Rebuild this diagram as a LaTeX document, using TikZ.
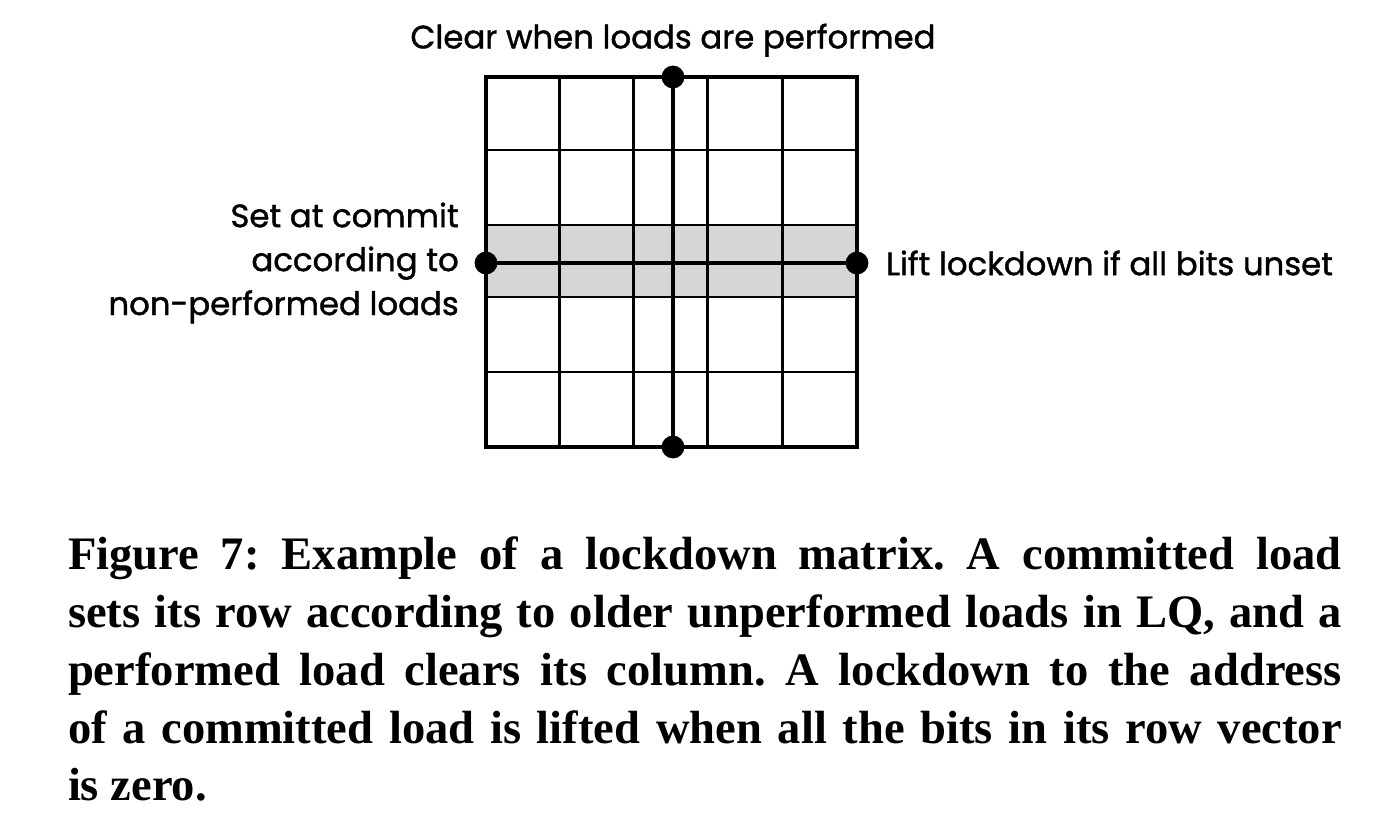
\documentclass[tikz,border=0pt]{standalone}
\usepackage{fontspec}
\setmainfont{Liberation Serif}
\newfontfamily\labelfont[FakeBold=1.2]{Poppins}
\newfontfamily\capfont{Liberation Serif}
\usetikzlibrary{positioning}
\definecolor{rowgray}{HTML}{D6D6D6}

\begin{document}
\frenchspacing
\begin{tikzpicture}[x=0.02cm, y=-0.02cm]
   \tikzstyle{every node}=[inner sep=0pt, outer sep=0pt]
   \tikzstyle{dot}=[circle, fill=black, minimum size=13pt]
   \tikzstyle{cell}=[line width=1.7pt]
   \tikzstyle{cross}=[line width=2.8pt]
   \tikzstyle{lbl}=[font=\labelfont\fontsize{18.4}{25}\selectfont]
   \tikzstyle{caption}=[font=\capfont\bfseries\fontsize{26.5}{32.9}\selectfont, text width=725pt, align=justify]

   \useasboundingbox (0,0) rectangle (1386,834);

   \fill[rowgray] (486,225) rectangle (857,297);
   \foreach \x in {559,633,707,782}
      \draw[cell] (\x,77) -- (\x,447);
   \foreach \y in {150,225,297,372}
      \draw[cell] (486,\y) -- (857,\y);
   \draw[cross] (486,77) rectangle (857,447);

\node[dot] (top) at (673,77) {};
\node[dot] (bottom) at (673,447) {};
\node[dot] (left) at (486,263) {};
\node[dot] (right) at (857,263) {};
\draw[cross] (top) -- (bottom);
\draw[cross] (left) -- (right);

\node[lbl, above=5pt of top] (clear) {Clear when loads are performed};
\node[lbl, left=9pt of left, align=right] (set) {Set at commit\\according to\\non-performed loads};
\node[lbl, right=10pt of right] (lift) {Lift lockdown if all bits unset};

\node[caption, anchor=north west] (fig) at (68,537) {Figure 7: Example of a lockdown matrix. A committed load\linebreak
sets its row according to older unperformed loads in LQ, and a\linebreak
performed load clears its column. A lockdown to the address\linebreak
of a committed load is lifted when all the bits in its row vector\linebreak
is zero.};

\end{tikzpicture}
\end{document}
